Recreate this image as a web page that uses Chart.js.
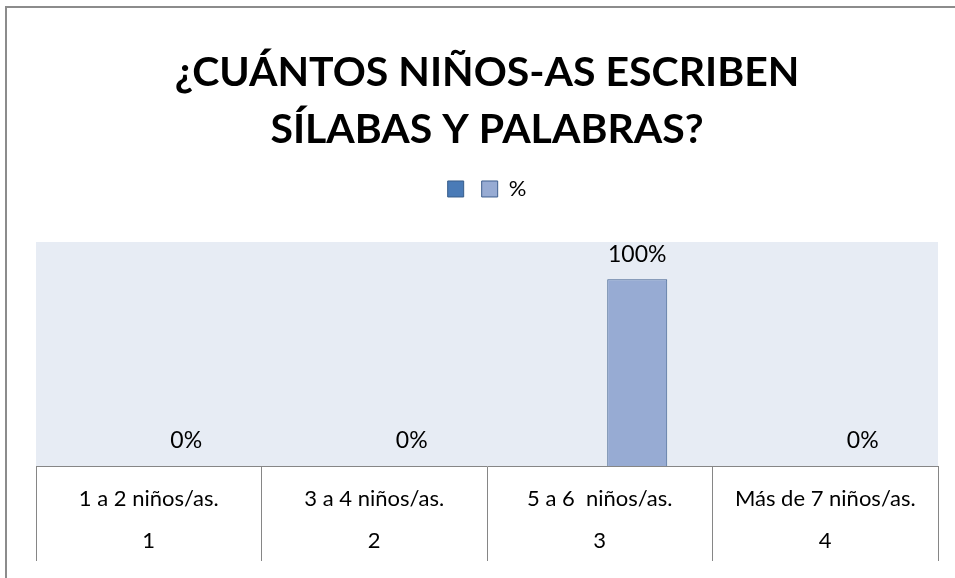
<!DOCTYPE html>
<html>
<head>
<meta charset="utf-8">
<script src="https://cdn.jsdelivr.net/npm/chart.js@4.4.1/dist/chart.umd.min.js"></script>
<style>
    body { margin: 0; background: #fff; }
    #wrap {
        position: absolute; left: 5px; top: 6px;
        width: 948px; height: 570px;
        border-left: 2px solid #8c8c8c; border-top: 2px solid #8c8c8c;
    }
</style>
</head>
<body>
<div id="wrap"><canvas id="chart" width="948" height="570"></canvas></div>
<script>
const categories = ['1 a 2 niños/as.', '3 a 4 niños/as.', '5 a 6  niños/as.', 'Más de 7 niños/as.'];
const categoryNumbers = ['1', '2', '3', '4'];
const blankSeries = [null, null, null, null];
const percentSeries = [0, 0, 100, 0];
const yMax = 120;

const FONT = "Lato, 'Open Sans', sans-serif";

// plot area fill
const plotBackground = {
    id: 'plotBackground',
    beforeDraw(chart) {
        const { ctx, chartArea: a } = chart;
        ctx.save();
        ctx.fillStyle = '#E7ECF4';
        ctx.fillRect(a.left, a.top, a.right - a.left, a.bottom - a.top);
        ctx.restore();
    }
};

// "0%" / "100%" above the bars of the % series
const valueLabels = {
    id: 'valueLabels',
    afterDatasetsDraw(chart) {
        const { ctx } = chart;
        const meta = chart.getDatasetMeta(1);
        ctx.save();
        ctx.font = '23px ' + FONT;
        ctx.fillStyle = '#000';
        ctx.textAlign = 'center';
        ctx.textBaseline = 'middle';
        meta.data.forEach((bar, i) => {
            ctx.fillText(percentSeries[i] + '%', bar.x, bar.y - 25);
        });
        ctx.restore();
    }
};

// two-level category labels inside the axis table
const categoryTable = {
    id: 'categoryTable',
    afterDraw(chart) {
        const { ctx, chartArea } = chart;
        const x = chart.scales.x;
        ctx.save();
        ctx.font = '22px ' + FONT;
        ctx.fillStyle = '#000';
        ctx.textAlign = 'center';
        ctx.textBaseline = 'middle';
        categories.forEach((c, i) => {
            const px = x.getPixelForValue(i);
            ctx.fillText(c, px, chartArea.bottom + 33);
            ctx.fillText(categoryNumbers[i], px, chartArea.bottom + 75);
        });
        ctx.restore();
    }
};

new Chart(document.getElementById('chart'), {
    type: 'bar',
    data: {
        labels: categories,
        datasets: [
            {
                label: '',
                data: blankSeries,
                backgroundColor: '#4A7BB7',
                borderColor: '#385D8A',
                borderWidth: 1
            },
            {
                label: '%',
                data: percentSeries,
                backgroundColor: '#97ABD3',
                borderColor: '#3E5F8E',
                borderWidth: 1
            }
        ]
    },
    options: {
        responsive: false,
        animation: false,
        categoryPercentage: 0.665,
        barPercentage: 0.8,
        layout: { padding: { left: 29, right: 17, top: 0, bottom: 17 } },
        plugins: {
            title: {
                display: true,
                text: ['¿CUÁNTOS NIÑOS-AS ESCRIBEN', 'SÍLABAS Y PALABRAS?'],
                color: '#000',
                font: { family: FONT, size: 41, weight: 'bold', lineHeight: 1.39 },
                padding: { top: 36, bottom: 13 },
                weight: 2000
            },
            legend: {
                position: 'top',
                weight: 1800,
                labels: {
                    color: '#000',
                    boxWidth: 16,
                    boxHeight: 16,
                    padding: 7,
                    font: { family: FONT, size: 22 }
                }
            },
            // spacer between legend and plot
            subtitle: {
                display: true,
                text: ' ',
                font: { size: 1, lineHeight: 1 },
                padding: { top: 0, bottom: 31 },
                weight: 1000
            },
            tooltip: { enabled: false }
        },
        scales: {
            y: { display: false, min: 0, max: yMax },
            x: {
                offset: true,
                border: { display: true, color: '#868686', width: 1 },
                grid: {
                    offset: true,
                    drawOnChartArea: false,
                    drawTicks: true,
                    tickLength: 95,
                    color: '#868686'
                },
                ticks: { display: false }
            }
        }
    },
    plugins: [plotBackground, valueLabels, categoryTable]
});
</script>
</body>
</html>
